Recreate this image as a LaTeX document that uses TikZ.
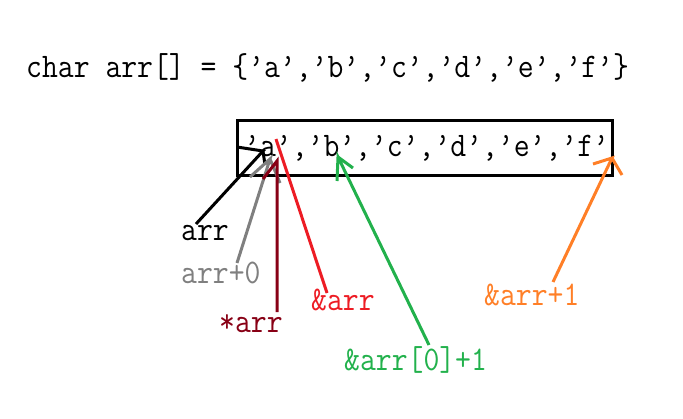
\documentclass[tikz,border=0pt]{standalone}
\definecolor{pdarkred}{RGB}{136,0,21}
\definecolor{pred}{RGB}{237,28,36}
\definecolor{pgreen}{RGB}{34,177,76}
\definecolor{porange}{RGB}{255,127,39}
\definecolor{pgray}{RGB}{127,127,127}
\newcommand{\tallcode}[1]{\scalebox{1}[1.12]{#1}}
\begin{document}
\begin{tikzpicture}[x=1pt,y=-1pt,
  code/.style={font=\fontsize{30.8}{36}\selectfont\ttfamily, inner sep=0pt, anchor=base west},
  ptr/.style={line width=3pt}]
\useasboundingbox (0,0) rectangle (683,418);
% declaration
\node[code] (decl) at (26,77) {\tallcode{char arr[] = \{’a’,’b’,’c’,’d’,’e’,’f’\}}};
% array box
\node[draw, line width=3.4pt, minimum width=375pt, minimum height=55pt, inner sep=0pt, anchor=north west] (box) at (236,119) {};
\node[code] (cells) at (244,156) {\tallcode{’a’,’b’,’c’,’d’,’e’,’f’}};
% labels
\node[code, text=black] (l1) at (181,240) {\tallcode{arr}};
\node[code, text=pgray] (l2) at (181,283) {\tallcode{arr+0}};
\node[code, text=pdarkred] (l3) at (219,332) {\tallcode{*arr}};
\node[code, text=pred] (l4) at (311,310) {\tallcode{\&arr}};
\node[code, text=pgreen] (l5) at (344,370) {\tallcode{\&arr[0]+1}};
\node[code, text=porange] (l6) at (484,305) {\tallcode{\&arr+1}};
% arrow coordinates
\coordinate (s1) at (196,224); \coordinate (t1) at (263,151);
\coordinate (b1a) at (237,147); \coordinate (b1b) at (265,165);
\coordinate (s2) at (237,263); \coordinate (t2) at (270,159);
\coordinate (b2a) at (250,177); \coordinate (b2b) at (280,183);
\coordinate (s3) at (277,312); \coordinate (t3) at (277,161);
\coordinate (b3a) at (263,179);
\coordinate (s4) at (327,293); \coordinate (t4) at (276,139);
\coordinate (s5) at (429,345); \coordinate (t5) at (338,157);
\coordinate (b5a) at (337,181); \coordinate (b5b) at (353,168);
\coordinate (s6) at (553,282); \coordinate (t6) at (612,158);
\coordinate (b6a) at (593,164); \coordinate (b6b) at (622,175);
% arrows
\draw[ptr, black] (s1) -- (t1) -- (b1a) (t1) -- (b1b);
\draw[ptr, pgray] (s2) -- (t2) -- (b2a) (t2) -- (b2b);
\draw[ptr, pdarkred] (s3) -- (t3) -- (b3a);
\draw[ptr, pred] (s4) -- (t4);
\draw[ptr, pgreen] (s5) -- (t5) -- (b5a) (t5) -- (b5b);
\draw[ptr, porange] (s6) -- (t6) -- (b6a) (t6) -- (b6b);
\end{tikzpicture}
\end{document}
